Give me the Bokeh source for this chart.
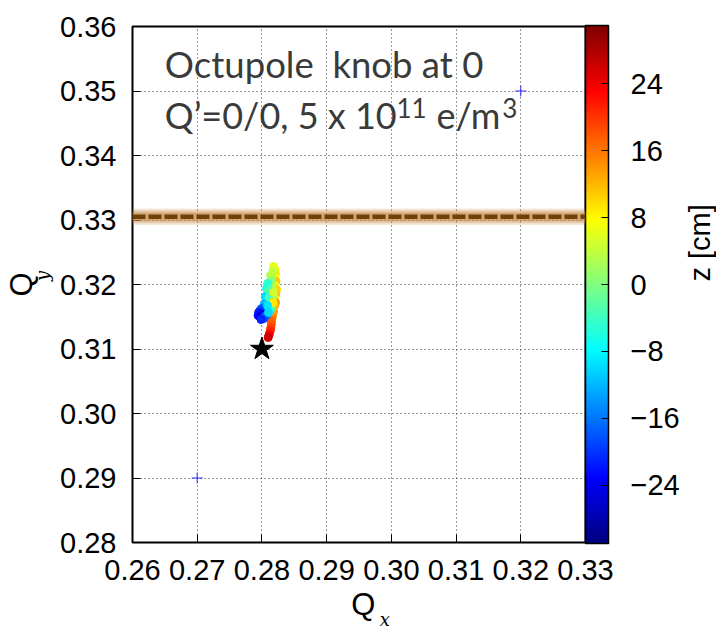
import numpy as np
from bokeh.plotting import figure
from bokeh.layouts import row
from bokeh.models import (ColumnDataSource, LinearColorMapper, ColorBar, FixedTicker,
                          Span, Label, LinearAxis, NumeralTickFormatter, Range1d)
from bokeh.embed import file_html
from bokeh.resources import INLINE

# ---------------- data ----------------
x_ticks = [0.26, 0.27, 0.28, 0.29, 0.30, 0.31, 0.32, 0.33]
y_ticks = [0.28, 0.29, 0.30, 0.31, 0.32, 0.33, 0.34, 0.35, 0.36]
cb_ticks = [-24, -16, -8, 0, 8, 16, 24]
cb_tick_labels = ["\u221224", "\u221216", "\u22128", "0", "8", "16", "24"]
z_low, z_high = -31, 31

# tune footprint of slices: Qx, Qy, z [cm]
qx = [0.28164, 0.28156, 0.28148, 0.28145, 0.28137, 0.28130, 0.28117, 0.28107, 0.28096, 0.28179, 0.28195,
      0.28179, 0.28202, 0.28210, 0.28195, 0.28218, 0.28195, 0.28226, 0.28210, 0.28195, 0.28210, 0.28187,
      0.28133, 0.28148, 0.28117, 0.28156, 0.28133, 0.28164, 0.28125, 0.28148, 0.28133,
      0.28087, 0.28071, 0.28094, 0.28056, 0.28079, 0.28040, 0.28063, 0.28025,
      0.27994, 0.27971, 0.27948, 0.27978, 0.28009, 0.27940, 0.27963, 0.28002, 0.28040, 0.28071, 0.28032, 0.27986,
      0.28171, 0.28102, 0.28110, 0.28179, 0.28172, 0.28087, 0.28102]
qy = [0.31519, 0.31473, 0.31426, 0.31380, 0.31333, 0.31287, 0.31240, 0.31209, 0.31178, 0.31581, 0.31674,
      0.32279, 0.32233, 0.32171, 0.32109, 0.32047, 0.31984, 0.31922, 0.31845, 0.31783, 0.31721, 0.31659,
      0.32140, 0.32062, 0.32000, 0.31938, 0.31860, 0.31798, 0.31736, 0.31674, 0.31612,
      0.32016, 0.31938, 0.31876, 0.31814, 0.31752, 0.31705, 0.31659, 0.31643,
      0.31628, 0.31597, 0.31566, 0.31550, 0.31535, 0.31519, 0.31504, 0.31488, 0.31504, 0.31519, 0.31473, 0.31457,
      0.32202, 0.31922, 0.31798, 0.31876, 0.31721, 0.31674, 0.31566]
z = [15, 16, 17, 18, 19, 21, 22, 24, 26, 14, 13,
     6, 7, 9, 8, 11, 6, 10, 12, 8, 14, 12,
     3, 1, 0, 3, -1, 2, -2, 0, -4,
     -5, -7, -6, -10, -8, -12, -11, -14,
     -17, -19, -21, -23, -25, -22, -24, -26, -20, -16, -18, -21,
     4, -3, -4, 5, 9, -9, -10]

bare_tune_x = [0.28]
bare_tune_y = [0.31]
corner_x = [0.27, 0.32]
corner_y = [0.29, 0.35]
resonance_qy = 0.3305

# ---------------- palette (jet) ----------------
def jet_hex(t):
    r = min(max(1.5 - abs(4 * t - 3), 0), 1)
    g = min(max(1.5 - abs(4 * t - 2), 0), 1)
    b = min(max(1.5 - abs(4 * t - 1), 0), 1)
    return "#%02x%02x%02x" % (int(r * 255), int(g * 255), int(b * 255))

jet = [jet_hex(i / 255) for i in range(256)]
mapper = LinearColorMapper(palette=jet, low=z_low, high=z_high)

FONT = "Liberation Sans"
FS = "29px"
NB = "\u00a0"

p = figure(frame_width=453, frame_height=516, x_range=(0.26, 0.33), y_range=(0.28, 0.36),
           output_backend="svg", toolbar_location=None,
           min_border_left=128, min_border_top=26, min_border_right=96, min_border_bottom=80,
           background_fill_color="white", border_fill_color="white")
p.outline_line_color = "black"
p.outline_line_width = 2

for ax in (p.xaxis[0], p.yaxis[0]):
    ax.major_label_text_font = FONT
    ax.major_label_text_font_size = FS
    ax.major_label_text_color = "black"
    ax.major_tick_in = 8
    ax.major_tick_out = 0
    ax.major_tick_line_color = "black"
    ax.minor_tick_line_color = None
    ax.axis_line_color = None
    ax.formatter = NumeralTickFormatter(format="0.00")

p.xaxis[0].ticker = FixedTicker(ticks=x_ticks)
p.yaxis[0].ticker = FixedTicker(ticks=y_ticks)
p.xaxis[0].major_label_standoff = 17
p.yaxis[0].major_label_standoff = 16

# x label: "Q" on the main axis, subscript on an extra (tick-less) axis below it
p.xaxis[0].axis_label = NB + "Q"
p.xaxis[0].axis_label_text_font = FONT
p.xaxis[0].axis_label_text_font_size = "31px"
p.xaxis[0].axis_label_text_font_style = "normal"
p.xaxis[0].axis_label_text_color = "black"
p.xaxis[0].axis_label_standoff = 4

# y label: subscript on the main axis (next to tick labels), "Q" on an extra axis further left
p.yaxis[0].axis_label = NB * 3 + "y"
p.yaxis[0].axis_label_text_font = "DejaVu Serif"
p.yaxis[0].axis_label_text_font_size = "18px"
p.yaxis[0].axis_label_text_font_style = "italic"
p.yaxis[0].axis_label_text_color = "black"
p.yaxis[0].axis_label_standoff = 4

def bare_axis(label, font, size, style, standoff):
    return LinearAxis(ticker=FixedTicker(ticks=[]), axis_line_color=None,
                      major_tick_line_color=None, minor_tick_line_color=None,
                      axis_label=label, axis_label_text_font=font,
                      axis_label_text_font_size=size, axis_label_text_font_style=style,
                      axis_label_text_color="black", axis_label_standoff=standoff)

p.add_layout(bare_axis(NB * 9 + "x", "DejaVu Serif", "18px", "italic", -16), "below")
p.add_layout(bare_axis("Q", FONT, "31px", "normal", -9), "left")

for g in (p.xgrid[0], p.ygrid[0]):
    g.grid_line_color = "#333333"
    g.grid_line_dash = "1 3"
    g.grid_line_width = 1
p.xgrid[0].ticker = FixedTicker(ticks=x_ticks)
p.ygrid[0].ticker = FixedTicker(ticks=y_ticks)

# resonance line with glow
for w, a in [(16, 0.25), (12, 0.35), (8, 0.5)]:
    p.add_layout(Span(location=resonance_qy, dimension="width", line_color="#c98a45",
                      line_width=w, line_alpha=a))
p.add_layout(Span(location=resonance_qy, dimension="width", line_color="#6e400c",
                  line_width=4.5, line_dash="13 3"))

src = ColumnDataSource(dict(qx=qx, qy=qy, z=z))
p.scatter("qx", "qy", source=src, size=8,
          fill_color={"field": "z", "transform": mapper},
          line_color={"field": "z", "transform": mapper})

p.scatter(bare_tune_x, bare_tune_y, marker="star", size=24, fill_color="black", line_color="black")
p.scatter(corner_x, corner_y, marker="cross", size=11, line_color="#2a2aff", line_width=1)

cb = ColorBar(color_mapper=mapper, ticker=FixedTicker(ticks=cb_ticks),
              major_label_overrides={t: s for t, s in zip(cb_ticks, cb_tick_labels)},
              width=23, height=518, location="center_left", margin=2, padding=0,
              bar_line_color="black", bar_line_width=1.5,
              major_tick_line_color="black", major_tick_in=7, major_tick_out=0,
              minor_tick_line_color=None, label_standoff=22,
              major_label_text_font=FONT, major_label_text_font_size=FS,
              major_label_text_color="black")
p.add_layout(cb, "right")

# annotation text
TF = "Lato"
TC = "#3a3a3a"
p.add_layout(Label(x=0.26500, y=0.35411, text="Octupole" + NB + " knob at 0", text_font=TF,
                   text_font_size="36.5px", text_color=TC, text_baseline="alphabetic"))
p.add_layout(Label(x=0.26500, y=0.34625, text="Q\u2019=0/0, 5 x 10", text_font=TF,
                   text_font_size="36px", text_color=TC, text_baseline="alphabetic"))
p.add_layout(Label(x=0.30080, y=0.34738, text="11", text_font=TF,
                   text_font_size="26px", text_color=TC, text_baseline="alphabetic"))
p.add_layout(Label(x=0.30699, y=0.34625, text="e/m", text_font=TF,
                   text_font_size="36px", text_color=TC, text_baseline="alphabetic"))
p.add_layout(Label(x=0.31715, y=0.34738, text="3", text_font=TF,
                   text_font_size="26px", text_color=TC, text_baseline="alphabetic"))

# narrow strip on the right holding the colour-bar title
ZW, ZH = 34, 622
zfig = figure(width=ZW, height=ZH, x_range=(0, ZW), y_range=Range1d(ZH, 0),
              x_axis_type=None, y_axis_type=None, toolbar_location=None,
              output_backend="svg", min_border=0, outline_line_color=None,
              background_fill_color="white", border_fill_color="white")
zfig.grid.visible = False
zfig.add_layout(Label(x=17, y=266, text="z [cm]", angle=90, angle_units="deg",
                      text_align="center", text_baseline="middle",
                      text_font=FONT, text_font_size=FS, text_color="black"))

layout = row(p, zfig, spacing=0)
open("out.html", "w").write(file_html(layout, INLINE))
